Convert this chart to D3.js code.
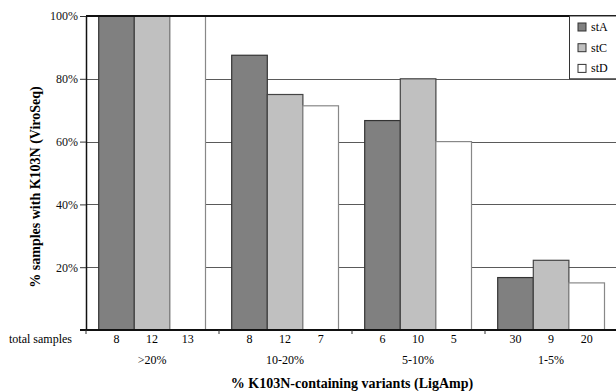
<!DOCTYPE html>
<html>
<head>
<meta charset="utf-8">
<script src="https://cdn.jsdelivr.net/npm/d3@7"></script>
<style>
body { margin: 0; background: #fff; }
</style>
</head>
<body>
<svg class="chart"></svg>
<script>
var width = 616, height = 391;

// data
var groups = [">20%", "10-20%", "5-10%", "1-5%"];
var series = ["stA", "stC", "stD"];
var stA = [1.0, 0.875, 0.667, 0.167];
var stC = [1.0, 0.75, 0.80, 0.222];
var stD = [1.0, 0.714, 0.60, 0.15];
var totalsA = [8, 8, 6, 30];
var totalsC = [12, 12, 10, 9];
var totalsD = [13, 7, 5, 20];
var yTicks = [0.2, 0.4, 0.6, 0.8, 1.0];

var fills = { stA: "#808080", stC: "#c0c0c0", stD: "#ffffff" };
var strokes = { stA: "#333", stC: "#444", stD: "#888" };
var serif = "'Liberation Serif', 'Times New Roman', 'DejaVu Serif', serif";

var rows = groups.map(function(g, i) {
    return [
        { group: g, key: "stA", value: stA[i], n: totalsA[i] },
        { group: g, key: "stC", value: stC[i], n: totalsC[i] },
        { group: g, key: "stD", value: stD[i], n: totalsD[i] }
    ];
});

var plotLeft = 86, plotTop = 16, plotBottom = 330;
var x0 = d3.scaleBand().domain(groups).range([plotLeft, plotLeft + 133 * 4]);
var x1 = d3.scaleBand().domain(series).range([12.7, 119.5]);
var y = d3.scaleLinear().domain([0, 1]).range([plotBottom, plotTop]);

var chart = d3.select(".chart")
    .attr("width", width)
    .attr("height", height)
    .style("font-family", serif);

// gridlines
chart.append("g").selectAll("line.grid")
    .data(yTicks.slice(0, 4))
    .enter().append("line")
    .attr("class", "grid")
    .attr("x1", plotLeft).attr("x2", width)
    .attr("y1", function(d) { return Math.round(y(d)) + 0.5; })
    .attr("y2", function(d) { return Math.round(y(d)) + 0.5; })
    .attr("stroke", "#5a5a5a").attr("stroke-width", 1);

// bars
var gg = chart.append("g").selectAll("g.grp")
    .data(rows)
    .enter().append("g")
    .attr("transform", function(d) { return "translate(" + x0(d[0].group) + ",0)"; });

gg.selectAll("rect")
    .data(function(d) { return d; })
    .enter().append("rect")
    .attr("x", function(d) { return x1(d.key); })
    .attr("width", x1.bandwidth())
    .attr("y", function(d) { return y(d.value); })
    .attr("height", function(d) { return plotBottom - y(d.value); })
    .attr("fill", function(d) { return fills[d.key]; })
    .attr("stroke", function(d) { return strokes[d.key]; })
    .attr("stroke-width", 1.2);

// sample counts under bars
gg.selectAll("text.n")
    .data(function(d) { return d; })
    .enter().append("text")
    .attr("class", "n")
    .attr("x", function(d) { return x1(d.key) + x1.bandwidth() / 2; })
    .attr("y", 343)
    .attr("text-anchor", "middle")
    .attr("font-size", 12)
    .text(function(d) { return d.n; });

// group labels
chart.append("g").selectAll("text.grp")
    .data(groups)
    .enter().append("text")
    .attr("x", function(d) { return x0(d) + x1(series[1]) + x1.bandwidth() / 2; })
    .attr("y", 364)
    .attr("text-anchor", "middle")
    .attr("font-size", 12)
    .text(function(d) { return d; });

chart.append("text")
    .attr("x", 9).attr("y", 343)
    .attr("font-size", 12)
    .text("total samples");

// y axis
var yAxis = d3.axisLeft(y)
    .tickValues(yTicks)
    .tickFormat(d3.format(".0%"))
    .tickSize(6)
    .tickSizeOuter(0);

chart.append("g")
    .attr("transform", "translate(" + plotLeft + ",0)")
    .call(yAxis)
    .call(function(g) {
        g.attr("font-family", serif).attr("font-size", 12);
        g.select(".domain").attr("stroke", "#111").attr("stroke-width", 1.5);
        g.selectAll(".tick line").attr("stroke", "#333");
        g.selectAll(".tick text").attr("x", -8).attr("fill", "#111");
    });

// frame: top border and baseline
chart.append("line")
    .attr("x1", plotLeft).attr("x2", width)
    .attr("y1", plotTop).attr("y2", plotTop)
    .attr("stroke", "#111").attr("stroke-width", 2);
chart.append("line")
    .attr("x1", plotLeft - 6).attr("x2", width)
    .attr("y1", plotBottom).attr("y2", plotBottom)
    .attr("stroke", "#111").attr("stroke-width", 2);

// group boundary ticks
chart.append("g").selectAll("line.xt")
    .data(groups)
    .enter().append("line")
    .attr("x1", function(d) { return x0(d); })
    .attr("x2", function(d) { return x0(d); })
    .attr("y1", plotBottom).attr("y2", plotBottom + 4)
    .attr("stroke", "#333");

// legend
var lg = chart.append("g");
lg.append("rect")
    .attr("x", 569.5).attr("y", plotTop)
    .attr("width", 50).attr("height", y(0.8) - plotTop)
    .attr("fill", "#fff").attr("stroke", "#333");
var li = lg.selectAll("g.li")
    .data(series)
    .enter().append("g")
    .attr("transform", function(d, i) { return "translate(578," + (23 + i * 20.7) + ")"; });
li.append("rect")
    .attr("width", 8).attr("height", 8)
    .attr("fill", function(d) { return fills[d]; })
    .attr("stroke", "#333");
li.append("text")
    .attr("x", 13).attr("y", 8)
    .attr("font-size", 12)
    .text(function(d) { return d; });

// axis titles
chart.append("text")
    .attr("x", 352).attr("y", 388)
    .attr("text-anchor", "middle")
    .attr("font-size", 14).attr("font-weight", "bold")
    .text("% K103N-containing variants (LigAmp)");

chart.append("text")
    .attr("transform", "translate(40,187) rotate(-90)")
    .attr("text-anchor", "middle")
    .attr("font-size", 14).attr("font-weight", "bold")
    .text("% samples with K103N (ViroSeq)");
</script>
</body>
</html>
